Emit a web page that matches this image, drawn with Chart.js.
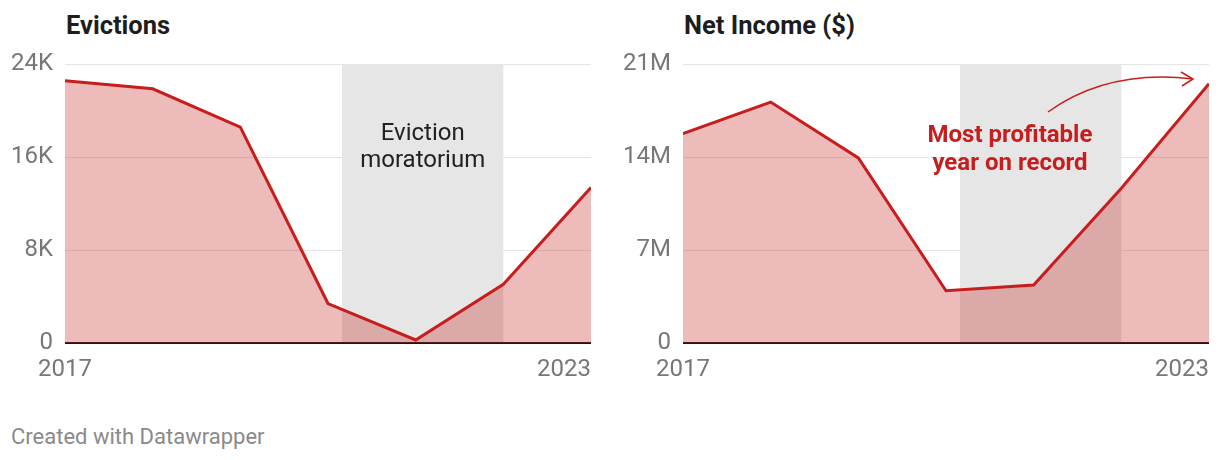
<!DOCTYPE html>
<html>
<head>
<meta charset="utf-8">
<script src="https://cdn.jsdelivr.net/npm/chart.js@4.4.1/dist/chart.umd.min.js"></script>
<style>
  body { margin: 0; background: #fff; width: 1220px; height: 460px; position: relative; overflow: hidden; font-family: Roboto, sans-serif; }
  .title { position: absolute; top: 10px; font-size: 25.5px; font-weight: 700; color: #1d1d1d; }
  .panel { position: absolute; top: 38px; width: 600px; height: 340px; }
  .footer { position: absolute; left: 11px; top: 424px; font-size: 22px; color: #8a8a8a; }
</style>
</head>
<body>
<div class="title" style="left:66px">Evictions</div>
<div class="title" style="left:684px">Net Income ($)</div>
<div class="panel" style="left:0"><canvas id="chart-evictions" width="600" height="340"></canvas></div>
<div class="panel" style="left:618px"><canvas id="chart-income" width="600" height="340"></canvas></div>
<div class="footer">Created with Datawrapper</div>
<script>
// data
const years = [2017, 2018, 2019, 2020, 2021, 2022, 2023];
const evictions = [22600, 21900, 18600, 3400, 260, 5050, 13400];
const netIncome = [15780000, 18160000, 13950000, 3940000, 4370000, 11660000, 19540000];
const evictionTicks = [0, 8000, 16000, 24000];
const incomeTicks = [0, 7000000, 14000000, 21000000];
const xTickLabels = [2017, 2023];
const moratorium = [2020.16, 2022];

const red = '#c71e1d';
const redFill = 'rgba(199, 30, 29, 0.3)';

const fmtK = v => v === 0 ? '0' : (v / 1000) + 'K';
const fmtM = v => v === 0 ? '0' : (v / 1000000) + 'M';

// gray band behind everything
const bandPlugin = {
    id: 'band',
    beforeDraw(chart) {
        const { ctx, chartArea, scales } = chart;
        const x0 = scales.x.getPixelForValue(moratorium[0]);
        const x1 = scales.x.getPixelForValue(moratorium[1]);
        ctx.save();
        ctx.fillStyle = '#e6e6e6';
        ctx.fillRect(x0, chartArea.top, x1 - x0, chartArea.bottom - chartArea.top);
        ctx.restore();
    }
};

// x labels: first centred, last flush right
const xLabelPlugin = {
    id: 'xlabels',
    afterDraw(chart) {
        const { ctx, chartArea, scales } = chart;
        ctx.save();
        ctx.font = '24px Roboto';
        ctx.fillStyle = '#777';
        ctx.textBaseline = 'middle';
        xTickLabels.forEach((yr, i) => {
            const px = scales.x.getPixelForValue(yr);
            ctx.textAlign = i === xTickLabels.length - 1 ? 'right' : 'center';
            ctx.fillText(String(yr), px, chartArea.bottom + 27);
        });
        ctx.restore();
    }
};

const makeChart = (id, values, ticks, fmt, max, notes) => new Chart(document.getElementById(id), {
    type: 'line',
    data: {
        datasets: [{
            data: years.map((yr, i) => ({ x: yr, y: values[i] })),
            borderColor: red,
            borderWidth: 3,
            backgroundColor: redFill,
            fill: 'origin',
            pointRadius: 0,
            tension: 0
        }]
    },
    options: {
        responsive: false,
        animation: false,
        layout: { padding: { top: 14, right: 9, bottom: 35, left: 0 } },
        plugins: { legend: { display: false }, tooltip: { enabled: false } },
        scales: {
            x: { type: 'linear', min: 2017, max: 2023, display: false },
            y: {
                min: 0,
                max: max,
                afterBuildTicks: scale => { scale.ticks = ticks.map(v => ({ value: v })); },
                afterFit: scale => { scale.width = 65; },
                border: { display: false },
                grid: {
                    drawTicks: false,
                    color: c => c.tick && c.tick.value === 0 ? '#1a1a1a' : '#e5e5e5',
                    lineWidth: c => c.tick && c.tick.value === 0 ? 2 : 1
                },
                ticks: { padding: 12, color: '#777', font: { family: 'Roboto', size: 24 }, callback: fmt }
            }
        }
    },
    plugins: [bandPlugin, xLabelPlugin, notes]
});

const evictionNote = {
    id: 'evictionNote',
    afterDatasetsDraw(chart) {
        const { ctx, scales } = chart;
        const cx = scales.x.getPixelForValue((moratorium[0] + moratorium[1]) / 2);
        ctx.save();
        ctx.font = '24px Roboto';
        ctx.fillStyle = '#222';
        ctx.textAlign = 'center';
        ctx.textBaseline = 'middle';
        ctx.fillText('Eviction', cx, 96);
        ctx.fillText('moratorium', cx, 123);
        ctx.restore();
    }
};

const incomeNote = {
    id: 'incomeNote',
    afterDatasetsDraw(chart) {
        const { ctx, scales } = chart;
        const cx = scales.x.getPixelForValue(2020.73);
        ctx.save();
        ctx.font = 'bold 24px Roboto';
        ctx.fillStyle = red;
        ctx.textAlign = 'center';
        ctx.textBaseline = 'middle';
        ctx.fillText('Most profitable', cx, 98);
        ctx.fillText('year on record', cx, 126);
        // arrow to the 2023 peak
        ctx.strokeStyle = red;
        ctx.lineWidth = 1.5;
        ctx.beginPath();
        ctx.moveTo(430, 74);
        ctx.quadraticCurveTo(490, 31, 575, 41);
        ctx.stroke();
        ctx.beginPath();
        ctx.moveTo(563, 34);
        ctx.lineTo(575, 41);
        ctx.lineTo(564, 48);
        ctx.stroke();
        ctx.restore();
    }
};

makeChart('chart-evictions', evictions, evictionTicks, fmtK, 24000, evictionNote);
makeChart('chart-income', netIncome, incomeTicks, fmtM, 21000000, incomeNote);
</script>
</body>
</html>
